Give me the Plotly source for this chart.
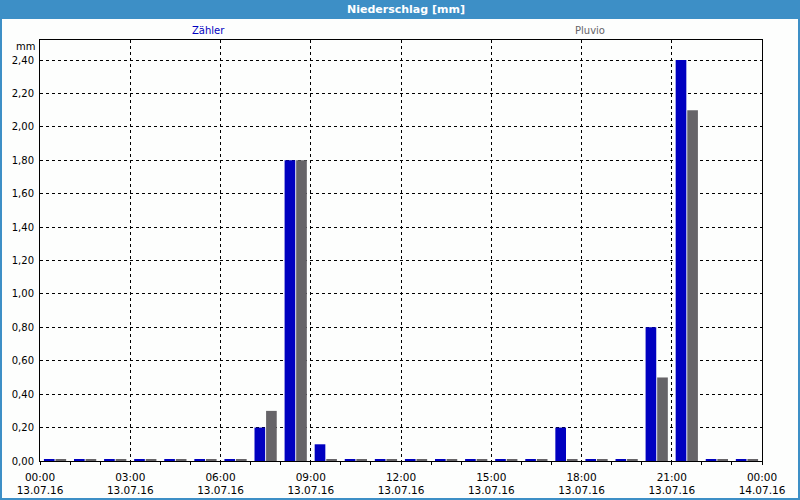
import plotly.graph_objects as go

hours = [f"2016-07-13 {h:02d}:30" for h in range(24)]
zaehler = [0, 0, 0, 0, 0, 0, 0, 0.20, 1.80, 0.10, 0, 0, 0, 0, 0, 0, 0, 0.20, 0, 0, 0.80, 2.40, 0, 0]
pluvio = [0, 0, 0, 0, 0, 0, 0, 0.30, 1.80, 0, 0, 0, 0, 0, 0, 0, 0, 0, 0, 0, 0.50, 2.10, 0, 0]

BLUE = "#0000c0"
GRAY = "#666468"
FRAME = "#3d8fc6"
MIN_VIS = 0.008  # zero values are drawn as a hairline bar, like the original


def disp(vals):
    return [v if v > 0 else MIN_VIS for v in vals]


fig = go.Figure()
fig.add_trace(go.Bar(x=hours, y=disp(zaehler), customdata=zaehler, name="Zähler",
                     marker=dict(color=BLUE, line=dict(width=0)),
                     hovertemplate="%{customdata:.2f} mm<extra>Zähler</extra>"))
fig.add_trace(go.Bar(x=hours, y=disp(pluvio), customdata=pluvio, name="Pluvio",
                     marker=dict(color=GRAY, line=dict(width=0)),
                     hovertemplate="%{customdata:.2f} mm<extra>Pluvio</extra>"))

L, R, T, B = 40, 38, 40, 39
W, H = 800, 500
pw, ph = W - L - R, H - T - B


def px2x(px):
    return (px - L) / pw


def px2y(py):
    return (H - B - py) / ph


font = dict(family="DejaVu Sans", size=10, color="black")
xfont = dict(family="DejaVu Sans", size=10.5, color="black")

fig.update_layout(
    width=W, height=H,
    margin=dict(l=L, r=R, t=T, b=B, pad=0),
    paper_bgcolor="#fdfefd",
    plot_bgcolor="#fdfefd",
    separators=",.",
    barmode="group",
    bargap=0.23,
    bargroupgap=0.08,
    showlegend=False,
    font=font,
    xaxis=dict(
        type="date", automargin=False,
        range=["2016-07-13 00:00", "2016-07-14 00:00"],
        tick0="2016-07-13 00:00", dtick=3 * 3600000,
        tickformat="%H:%M<br>%d.%m.%y",
        ticks="outside", ticklen=3, tickcolor="black",
        showgrid=True, gridcolor="black", gridwidth=1, griddash="3px,3px",
        showline=True, linecolor="black", linewidth=1, mirror=True,
        minor=dict(dtick=3600000, ticks="outside", ticklen=3, tickcolor="black", showgrid=False),
        tickfont=xfont, zeroline=False, ticklabelstandoff=3,
    ),
    yaxis=dict(
        range=[0, 2.52], dtick=0.2, tick0=0, tickformat=".2f", automargin=False,
        ticks="", showgrid=True, gridcolor="black", gridwidth=1, griddash="3px,3px",
        showline=True, linecolor="black", linewidth=1, mirror=True,
        tickfont=font, zeroline=False, ticklabelstandoff=3,
    ),
    shapes=[
        dict(type="rect", xref="paper", yref="paper",
             x0=px2x(0), x1=px2x(800), y0=px2y(19), y1=px2y(0),
             fillcolor=FRAME, line=dict(width=0), layer="above"),
        dict(type="rect", xref="paper", yref="paper",
             x0=px2x(1), x1=px2x(799), y0=px2y(499), y1=px2y(1),
             fillcolor="rgba(0,0,0,0)", line=dict(width=2, color=FRAME), layer="above"),
    ],
    annotations=[
        dict(text="<b>Niederschlag [mm]</b>", xref="paper", yref="paper",
             x=px2x(406), y=px2y(10), showarrow=False, xanchor="center", yanchor="middle",
             font=dict(family="DejaVu Sans", size=11, color="white")),
        dict(text="Zähler", xref="paper", yref="paper",
             x=px2x(208), y=px2y(31), showarrow=False, xanchor="center", yanchor="middle",
             font=dict(family="DejaVu Sans", size=10, color=BLUE)),
        dict(text="Pluvio", xref="paper", yref="paper",
             x=px2x(590), y=px2y(31), showarrow=False, xanchor="center", yanchor="middle",
             font=dict(family="DejaVu Sans", size=10, color=GRAY)),
        dict(text="mm", xref="paper", yref="paper",
             x=px2x(37), y=px2y(46), showarrow=False, xanchor="right", yanchor="middle",
             font=dict(family="DejaVu Sans", size=10, color="black")),
    ],
)

fig.write_html("out.html")
